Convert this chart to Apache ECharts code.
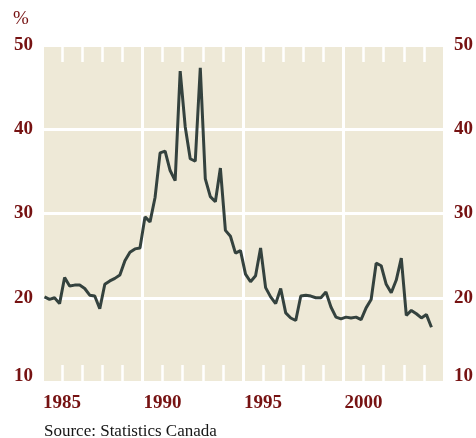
<!DOCTYPE html>
<html><head><meta charset="utf-8">
<script src="https://cdn.jsdelivr.net/npm/echarts@6/dist/echarts.min.js"></script>
<style>html,body{margin:0;padding:0;background:#fff}#c{width:476px;height:438px}</style>
</head><body><div id="c"></div>
<script>
// Quarterly series, first point = 1984 Q1
const firstYear = 1984;
const rates = [
  20.1, 19.8, 20.0, 19.3, 22.4, 21.4, 21.5, 21.5, 21.1, 20.3, 20.2, 18.7, 21.6, 22.0, 22.3, 22.7, 24.4, 25.4, 25.8, 25.9,
  29.6, 29.0, 31.9, 37.2, 37.4, 35.1, 33.9, 46.9, 40.3, 36.5, 36.2, 47.3, 34.1, 32.0, 31.4, 35.4, 28.0, 27.3, 25.3, 25.6,
  22.8, 21.9, 22.6, 25.9, 21.2, 20.1, 19.3, 21.1, 18.2, 17.6, 17.3, 20.2, 20.3, 20.2, 20.0, 20.0, 20.7, 18.9, 17.7, 17.5,
  17.7, 17.6, 17.7, 17.4, 18.8, 19.8, 24.1, 23.8, 21.6, 20.6, 22.1, 24.7, 17.9, 18.5, 18.1, 17.6, 18.0, 16.5
];
const yearLabels = [1985, 1990, 1995, 2000];
const tickYears = [1985,1986,1987,1988,1989,1990,1991,1992,1993,1994,1995,1996,1997,1998,1999,2000,2001,2002,2003];
const majorYears = [1989, 1994, 1999];
const yMin = 10, yMax = 50, yStep = 10;
const unitLabel = '%';
const sourceText = 'Source: Statistics Canada';

const RED = '#761212';
const FONT = 'Liberation Serif';
const data = rates.map((v, k) => [firstYear + (k + 0.5) / 4, v]);

const xBase = {
  type: 'value', min: 1984.1, max: 2003.95,
  axisLine: { show: false },
  splitLine: { show: false },
  axisTick: { show: true, inside: true, length: 17, customValues: tickYears,
    lineStyle: { color: '#ffffff', width: 2.5 } }
};
const yBase = {
  type: 'value', min: yMin, max: yMax, interval: yStep,
  axisLine: { show: false }, axisTick: { show: false },
  axisLabel: { color: RED, fontFamily: FONT, fontSize: 19, fontWeight: 'bold', margin: 11,
    lineHeight: 12, verticalAlignMinLabel: 'bottom' }
};

const chart = echarts.init(document.getElementById('c'), null, { renderer: 'canvas' });
chart.setOption({
  animation: false,
  backgroundColor: '#ffffff',
  grid: { left: 44, top: 45, width: 401, height: 337, show: true,
    backgroundColor: '#eee9d7', borderWidth: 0 },
  xAxis: [
    Object.assign({}, xBase, { position: 'bottom',
      axisLabel: { show: true, customValues: yearLabels, color: RED, fontFamily: FONT,
        fontSize: 19, fontWeight: 'bold', margin: 12, formatter: v => String(Math.round(v)) } }),
    Object.assign({}, xBase, { position: 'top', axisLabel: { show: false } })
  ],
  yAxis: [
    Object.assign({}, yBase, { position: 'left',
      splitLine: { show: true, lineStyle: { color: '#ffffff', width: 3 } } }),
    Object.assign({}, yBase, { position: 'right', splitLine: { show: false } })
  ],
  graphic: [
    { type: 'text', left: 13, top: 10, style: { text: unitLabel, font: '19px "Liberation Serif"', fill: RED } },
    { type: 'text', left: 44, top: 423, style: { text: sourceText, font: '17px "Liberation Serif"', fill: '#151515' } }
  ],
  series: [
    { type: 'line', data: [], z: 1, silent: true,
      markLine: { z: 1, silent: true, symbol: ['none', 'none'], label: { show: false },
        lineStyle: { color: '#ffffff', width: 3, type: 'solid' },
        data: majorYears.map(y => ({ xAxis: y })) } },
    { type: 'line', data: data, z: 6, showSymbol: false, symbol: 'none',
      lineStyle: { color: '#34423e', width: 3 } }
  ]
});
</script></body></html>
